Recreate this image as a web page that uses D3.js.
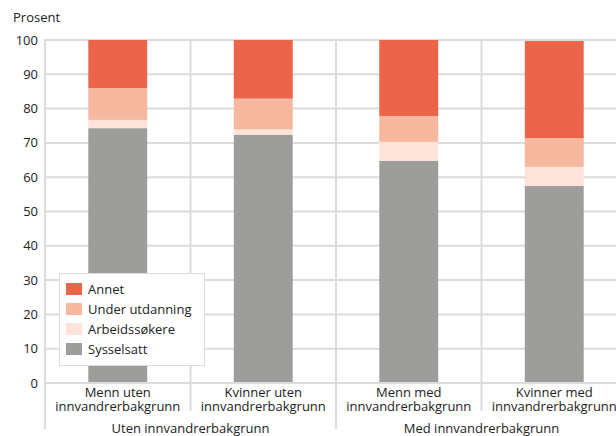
<!DOCTYPE html>
<html><head><meta charset="utf-8">
<script src="https://cdn.jsdelivr.net/npm/d3@7"></script>
<style>body{margin:0;background:#fff}svg{display:block;font-family:"Open Sans",sans-serif}</style>
</head><body><svg id="c" width="616" height="436"></svg>
<script>
const categories = [
  ["Menn uten", "innvandrerbakgrunn"],
  ["Kvinner uten", "innvandrerbakgrunn"],
  ["Menn med", "innvandrerbakgrunn"],
  ["Kvinner med", "innvandrerbakgrunn"]
];
const groups = ["Uten innvandrerbakgrunn", "Med innvandrerbakgrunn"];
const seriesNames = ["Sysselsatt", "Arbeidssøkere", "Under utdanning", "Annet"];
const sysselsatt = [74.3, 72.4, 64.8, 57.5];
const arbeidssokere = [2.4, 1.5, 5.5, 5.5];
const underUtdanning = [9.3, 9.0, 7.5, 8.4];
const annet = [14.0, 17.1, 22.2, 28.3];
const yTicks = [0, 10, 20, 30, 40, 50, 60, 70, 80, 90, 100];
const colors = ["#9d9d9b", "#fde3da", "#f6b9a0", "#ec654a"];

const svg = d3.select("#c");
const L = 45, R = 627, T = 40, B = 383;
const x = d3.scaleBand().domain(d3.range(4)).range([L, R]).paddingInner(0).paddingOuter(0);
const y = d3.scaleLinear().domain([0, 100]).range([B, T]);
const grid = "#dcdcdc", txt = "#222";

// horizontal grid
svg.append("g").selectAll("line").data(yTicks.filter(d => d > 0)).join("line")
  .attr("x1", L).attr("x2", 616).attr("y1", d => y(d)).attr("y2", d => y(d))
  .attr("stroke", grid).attr("stroke-width", 2);
// vertical grid at band boundaries
svg.append("g").selectAll("line").data([1, 2, 3]).join("line")
  .attr("x1", d => x(d)).attr("x2", d => x(d)).attr("y1", T).attr("y2", B)
  .attr("stroke", grid).attr("stroke-width", 2);

// y tick labels
svg.append("g").selectAll("text").data(yTicks).join("text")
  .attr("x", 38).attr("y", d => y(d)).attr("dy", "0.35em").attr("text-anchor", "end")
  .attr("font-size", 13).attr("fill", txt).text(d => d);
svg.append("text").attr("x", 13).attr("y", 22).attr("font-size", 13).attr("fill", txt).text("Prosent");

// stacked bars
const rows = categories.map((c, i) => ({i, Sysselsatt: sysselsatt[i], "Arbeidssøkere": arbeidssokere[i], "Under utdanning": underUtdanning[i], Annet: annet[i]}));
const stack = d3.stack().keys(seriesNames)(rows);
const bw = x.bandwidth() * 0.405;
svg.append("g").selectAll("g").data(stack).join("g").attr("fill", (d, k) => colors[k])
  .selectAll("rect").data(d => d).join("rect")
  .attr("x", d => x(d.data.i) + (x.bandwidth() - bw) / 2).attr("width", bw)
  .attr("y", d => y(d[1])).attr("height", d => y(d[0]) - y(d[1]));

// axes lines
svg.append("line").attr("x1", L).attr("x2", 616).attr("y1", B).attr("y2", B).attr("stroke", grid).attr("stroke-width", 2);
svg.append("line").attr("x1", L).attr("x2", L).attr("y1", T - 1).attr("y2", 429).attr("stroke", grid).attr("stroke-width", 2);
svg.append("line").attr("x1", x(2)).attr("x2", x(2)).attr("y1", B).attr("y2", 429).attr("stroke", grid).attr("stroke-width", 2);
[1, 3].forEach(k => svg.append("line").attr("x1", x(k)).attr("x2", x(k)).attr("y1", B).attr("y2", 411).attr("stroke", grid).attr("stroke-width", 2));

// category labels
const cl = svg.append("g").selectAll("text").data(categories).join("text")
  .attr("text-anchor", "middle").attr("font-size", 13).attr("fill", txt);
cl.each(function(d, i) {
  const t = d3.select(this);
  d.forEach((s, j) => t.append("tspan").attr("x", x(i) + x.bandwidth() / 2).attr("y", 396.5 + j * 14.5).text(s));
});
// group labels
svg.append("g").selectAll("text").data(groups).join("text")
  .attr("x", (d, g) => (x(g * 2) + x(g * 2 + 1) + x.bandwidth()) / 2).attr("y", 433)
  .attr("text-anchor", "middle").attr("font-size", 13).attr("fill", txt).text(d => d);

// legend
const lg = svg.append("g");
lg.append("rect").attr("x", 59.5).attr("y", 273.5).attr("width", 145).attr("height", 92)
  .attr("fill", "#fff").attr("stroke", "#dcdcdc").attr("stroke-width", 1);
const legendOrder = ["Annet", "Under utdanning", "Arbeidssøkere", "Sysselsatt"];
legendOrder.forEach((n, j) => {
  const k = seriesNames.indexOf(n);
  lg.append("rect").attr("x", 66).attr("y", 283 + j * 20).attr("width", 16).attr("height", 12).attr("fill", colors[k]);
  lg.append("text").attr("x", 88).attr("y", 289 + j * 20).attr("dy", "0.35em").attr("font-size", 13).attr("fill", txt).text(n);
});
</script></body></html>
